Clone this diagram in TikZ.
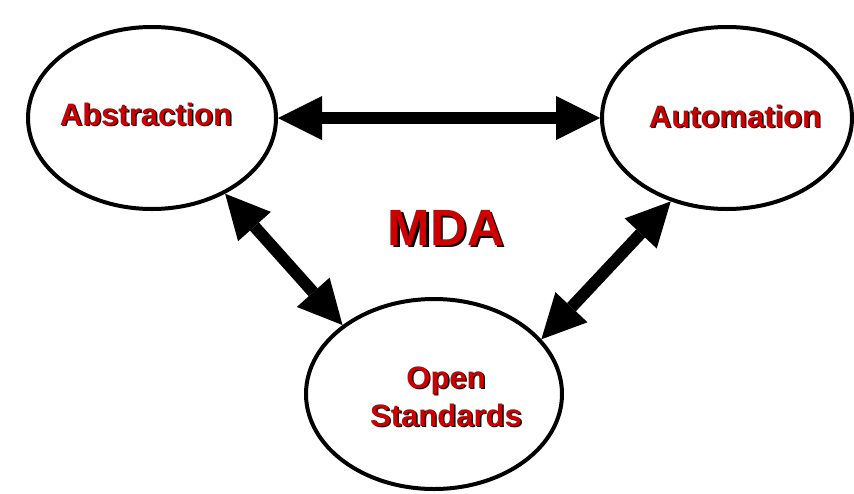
\documentclass[tikz,border=0pt]{standalone}
\usepackage{fontspec}
\setmainfont{Liberation Sans}
\usetikzlibrary{shapes.geometric,arrows.meta}
\definecolor{mdared}{HTML}{CC0000}
\newcommand\shd[2]{\makebox[0pt][l]{\hspace{#1}\raisebox{-#1}{\color{black}#2}}\textcolor{mdared}{#2}}
\begin{document}
\begin{tikzpicture}[x=1pt,y=-1pt,
  bubble/.style={draw=black,line width=4pt,ellipse,inner sep=0pt,fill=white},
  lbl/.style={font=\bfseries\fontsize{31}{31}\selectfont,inner sep=0pt,anchor=base},
  biglbl/.style={font=\bfseries\fontsize{51}{51}\selectfont,inner sep=0pt,anchor=base},
  dblarrow/.style={line width=12pt,
    {Triangle[length=44pt,width=44pt,line width=0pt]}-{Triangle[length=44pt,width=44pt,line width=0pt]}}]
\useasboundingbox[fill=white] (0,0) rectangle (854,493);
\node[bubble,minimum width=248pt,minimum height=182pt] (abs) at (152,118) {};
\node[bubble,minimum width=250pt,minimum height=182pt] (aut) at (727,118) {};
\node[bubble,minimum width=256pt,minimum height=190pt] (ope) at (434,394) {};
\node[lbl] (absT) at (146,125) {\shd{1.5pt}{Abstraction}};
\node[lbl] (autT) at (735,127) {\shd{1.5pt}{Automation}};
\node[lbl] (opeT1) at (446,388) {\shd{1.5pt}{Open}};
\node[lbl] (opeT2) at (446,426) {\shd{1.5pt}{Standards}};
\node[biglbl] (mda) at (446,245) {\shd{2.5pt}{MDA}};
\draw[dblarrow] (abs.east) -- (aut.west);
\draw[dblarrow] (abs.-46) -- (ope.143.6);
\draw[dblarrow] (aut.-124.5) -- (ope.27.4);
\end{tikzpicture}
\end{document}
